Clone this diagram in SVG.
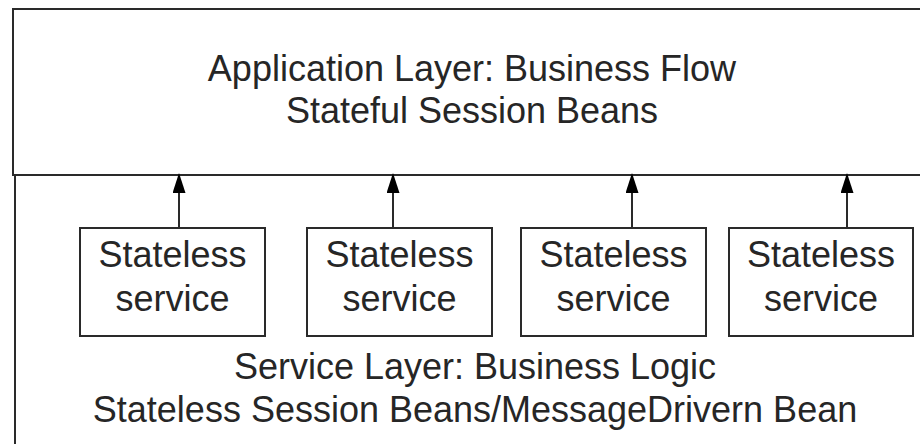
<svg xmlns="http://www.w3.org/2000/svg" width="920" height="444" viewBox="0 0 920 444">
  <style>
    .layer { fill: #ffffff; stroke: #2a2a2a; stroke-width: 2; }
    .svc { fill: #ffffff; stroke: #2a2a2a; stroke-width: 2; }
    .lbl { font-family: "Liberation Sans", Arial, sans-serif; font-size: 36px; fill: #262626; text-anchor: middle; }
    .conn { stroke: #2a2a2a; stroke-width: 2; fill: none; }
  </style>
  <defs>
    <!-- filled triangular head, drawn along +x so orient="auto" points it along the line -->
    <marker id="arrow" viewBox="0 0 20 13" refX="19" refY="6.5" markerWidth="20" markerHeight="13" markerUnits="userSpaceOnUse" orient="auto">
      <path d="M0 0 L20 6.5 L0 13 Z" fill="#000000"/>
    </marker>
  </defs>
  <rect width="920" height="444" fill="#ffffff"/>

  <!-- Service layer (lower container, runs past the right and bottom edges) -->
  <g id="service-layer">
    <rect class="layer" x="15" y="175" width="940" height="300"/>
    <text class="lbl" x="475" y="379">Service Layer: Business Logic</text>
    <text class="lbl" x="475" y="422">Stateless Session Beans/MessageDrivern Bean</text>
  </g>

  <!-- Application layer (upper container) -->
  <g id="application-layer">
    <rect class="layer" x="13" y="9" width="940" height="166"/>
    <text class="lbl" x="472" y="81">Application Layer: Business Flow</text>
    <text class="lbl" x="472" y="123">Stateful Session Beans</text>
  </g>

  <!-- Stateless services -->
  <g id="svc1">
    <rect class="svc" x="80" y="228" width="185" height="108"/>
    <text class="lbl" x="172.5" y="267">Stateless</text>
    <text class="lbl" x="172.5" y="311">service</text>
  </g>
  <g id="svc2">
    <rect class="svc" x="307" y="228" width="185" height="108"/>
    <text class="lbl" x="399.5" y="267">Stateless</text>
    <text class="lbl" x="399.5" y="311">service</text>
  </g>
  <g id="svc3">
    <rect class="svc" x="521" y="228" width="185" height="108"/>
    <text class="lbl" x="613.5" y="267">Stateless</text>
    <text class="lbl" x="613.5" y="311">service</text>
  </g>
  <g id="svc4">
    <rect class="svc" x="729" y="228" width="184" height="108"/>
    <text class="lbl" x="821" y="267">Stateless</text>
    <text class="lbl" x="821" y="311">service</text>
  </g>

  <!-- Connectors: each service up to the application layer -->
  <g id="connectors">
    <line class="conn" x1="179" y1="228" x2="179" y2="174" marker-end="url(#arrow)"/>
    <line class="conn" x1="393" y1="228" x2="393" y2="174" marker-end="url(#arrow)"/>
    <line class="conn" x1="632" y1="228" x2="632" y2="174" marker-end="url(#arrow)"/>
    <line class="conn" x1="847" y1="228" x2="847" y2="174" marker-end="url(#arrow)"/>
  </g>
</svg>
